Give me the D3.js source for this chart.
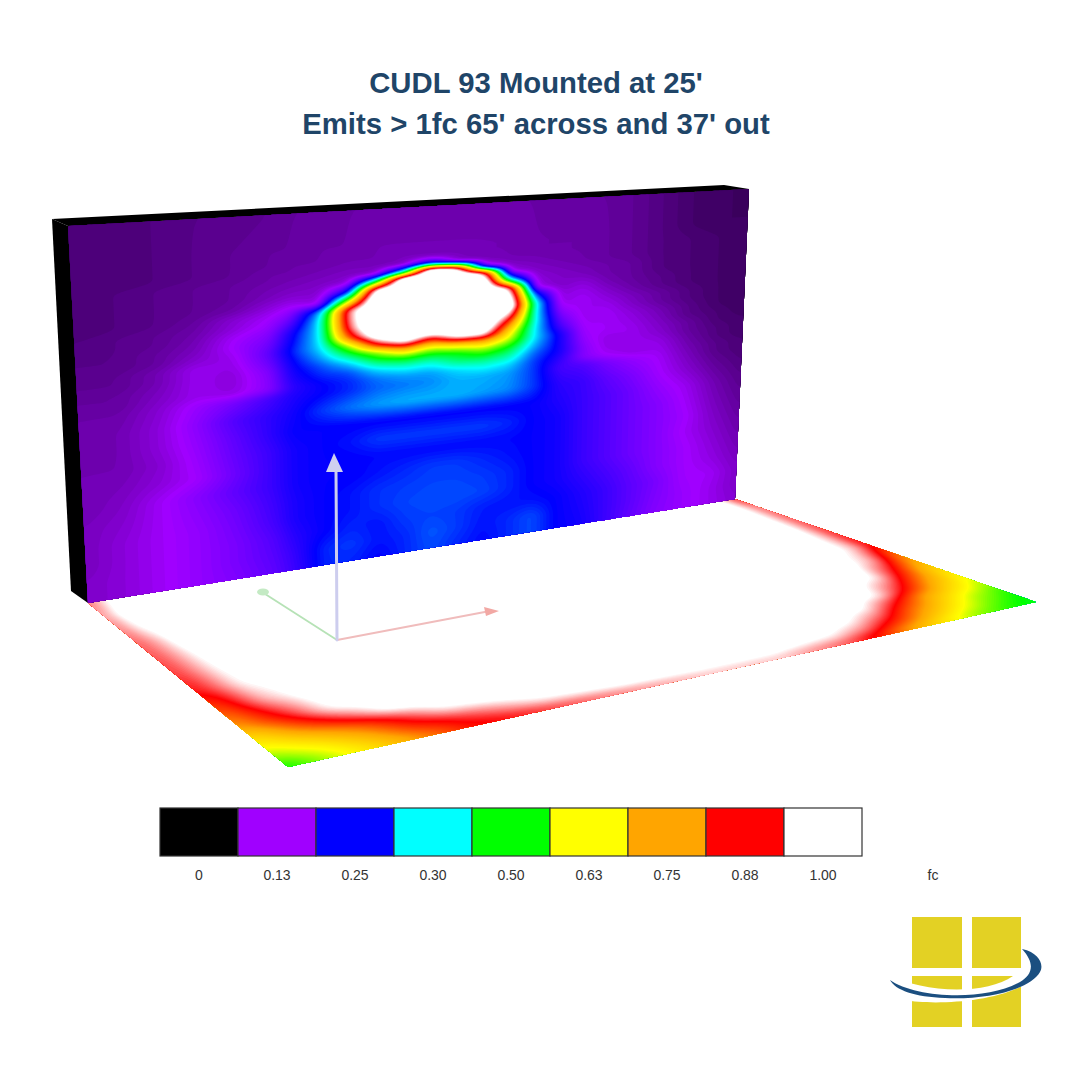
<!DOCTYPE html>
<html>
<head>
<meta charset="utf-8">
<script src="https://cdn.jsdelivr.net/npm/d3@7"></script>
<style>
body { margin: 0; background: #fff; }
text { font-family: "Liberation Sans", Arial, sans-serif; }
</style>
</head>
<body>
<div class="chart"></div>
<script>
let titleLines = ["CUDL 93 Mounted at 25'", "Emits > 1fc 65' across and 37' out"];

// legend
let legendStops = [0, 0.125, 0.25, 0.375, 0.5, 0.625, 0.75, 0.875, 1];
let legendLabels = ["0", "0.13", "0.25", "0.30", "0.50", "0.63", "0.75", "0.88", "1.00"];
let legendColours = ["#000000", "#a000ff", "#0000ff", "#00ffff", "#00ff00", "#ffff00", "#ffa500", "#ff0000", "#ffffff"];

// wall readings, hundredths of a fc. columns = wallU, rows = wallV
let wallU = [0, .05, .1, .15, .2, .25, .28, .32, .36, .4, .44, .48, .52, .56, .6, .64, .68, .72, .76, .8, .85, .9, .95, 1];
let wallV = [0, .1, .14, .16, .18, .2, .225, .25, .275, .3, .325, .35, .375, .4, .425, .45, .475, .5, .55, .6, .65, .7, .75, .8, .85, .9, .95, 1];
let wallFc = [
  [6,6,6.5,7,7,7.5,8,8,8.5,8.5,8.5,8.5,8.5,8.5,8.5,8.5,8,8,8,7.5,6.5,5.5,5,5],
  [6,6,6.5,7,7.5,8,8,8.5,8.5,9,9,9,9,9,9,8.5,8.5,8.5,8,7.5,6.5,5.5,5,5],
  [6,6,6.5,7,7.5,8,8.5,8.5,9,9,9.5,9.5,9.5,9,9,8.5,8.5,8.5,8,7.5,6.5,6,5.5,5],
  [6,6,6.5,7,7.5,8.5,8.5,9,9.5,9.5,10,25,10,9.5,9,9,8.5,8.5,8,7.5,6.5,6,5.5,5],
  [6,6.5,7,7.5,8,8.5,9,9.5,10,10.5,40,115,100,15,10,9.5,9,8.5,8,7.5,6.5,6,5.5,5],
  [6,6.5,7,7.5,8,9,9.5,10,11,45,115,115,115,100,12,10,9.5,9,8.5,8,6.5,6,5.5,5],
  [6,6.5,7,7.5,8,9.5,10.5,10.5,25,105,115,115,115,115,40,11,10,9.5,8.5,8,6.5,6,5.5,5],
  [6,6.5,7,7.5,8.5,11,12.5,11.5,60,115,115,115,115,115,100,12,10,11,9,8,7,6,5.5,5],
  [6,6.5,7,8,10.5,12.5,15,33,95,115,115,115,115,115,110,29,11,12,10,8.5,7,6,5.5,5],
  [6.5,7,7.5,8.5,11,13.5,19,37,95,115,115,115,115,115,115,40,11.5,12.5,11,9.5,8,6.5,5.5,5],
  [6.5,7,7.5,9,12.5,15,23.5,37,92,115,115,115,115,115,100,39,14,12,12,10,8,6.5,5.5,5],
  [7,7,8,9.5,13,16.5,25,37,82,110,115,115,115,115,82,39,17,12,12.5,11,9,7,5.5,5],
  [7,7,8,10.5,12,18,26.5,36,58,90,104,86,104,103,68,37.5,20,12.5,12.5,11.5,9.5,7,6,5],
  [7,7.5,9,12,11.5,17,25,33,45,58,72,62,68,72,60,37,24,13,12.5,12,10,8,6,5.5],
  [7.5,7.5,9,12,11,15.5,24,29,35,46,50,47,50,56,49,34,24,14,11.5,12,10.5,8,6.5,5.5],
  [8,8,9.5,12,11,15,23,27,29,36,39,38,44,45,42,30,24,15,11.5,12,11.5,8.5,6.5,5.5],
  [8,8,10,12,11.5,15,22,25,27,31,33,33,36,38,36,28,22,15,12.5,11.5,12,9,7,6],
  [8.5,8.5,10.5,13.5,16,20,23,25,27,30,31,32,34,34,33,28,20,19,16,14,12.5,9.5,7,6],
  [8.5,9,11,14.5,19,22,24,28,31,33,34,34,34,33,32,28,22,21,18,16,13,10.5,8,6.5],
  [8.5,9,11,14,18,22,25,25,25,25,25,25,25,25,25,25,23,21,19,17,14,12,9,7],
  [9,9,10.5,13.5,17.5,21,24,25,26,28,28,28,28,28,27,25,24,21,19,17,15,12.5,9.5,7.5],
  [9,9.5,11,13,17,21,24,25,25,25.5,25.5,25.5,25.5,25.5,25.5,25,24,21,19,17,15,13,10,8],
  [9,10,12.5,15,18,21,24,25,25,26,27,28,28,27,26,25,24,21,19,17,15,12.5,10.5,8.5],
  [9.5,10.5,12.5,14.5,17,20.5,23.5,25,26,27.5,28,28.5,28.5,28,27,25,24,21,19,17,15,13,11,9],
  [9.5,11,12.5,14,16.5,20,23.5,25,26,27.5,28.5,29,29,28.5,27,25,24,22,20,18,15,13,11.5,9.5],
  [9.5,11,12.5,14,16,19,22.5,25,27,26,28,28.5,28,26.5,26,26,25,23,21,18.5,16,13,12.5,10],
  [10,11,12.5,14,16,18.5,21.5,27,28,26,27,29.5,28,26,27,29,25,23.5,21,18.5,15.5,13.5,12,10],
  [10,11,12.5,14,15.5,18,21,27,27,25,27,29,27,25.5,27,29,25,24,21,18,15,13.5,12,10.5]
];

// floor readings, hundredths of a fc. columns = floorU, rows = floorV
let floorU = [0, .02, .05, .1, .15, .2, .3, .4, .5, .6, .7, .75, .8, .85, .9, .95, .975, 1];
let floorV = [0, .1, .2, .3, .4, .5, .6, .7, .8, .85, .9, .95, 1];
let floorFc = [
  [92,100,104,104,104,104,104,104,104,104,104,104,104,104,104,104,100,90],
  [94,102,104,104,104,104,104,104,104,104,104,104,104,104,104,104,100,93],
  [93,100,104,104,104,104,104,104,104,104,104,104,104,104,104,104,99,92],
  [92,96,104,104,104,104,104,104,104,104,104,104,104,104,104,104,98,91],
  [91,95,102,104,104,104,104,104,104,104,104,104,104,104,104,102,97,89],
  [90,94,101,104,104,104,104,104,104,104,104,104,104,104,104,101,96,87],
  [88,92,100,104,104,104,104,104,104,104,104,104,104,104,104,96,87,77],
  [82,87,96,103,104,104,104,104,104,104,104,104,104,104,100,84,75,69],
  [75,80,87,100,104,104,104,104,104,104,104,104,104,100,86,72,68,62],
  [68,72,80,91,102,104,104,104,104,104,104,104,101,89,75,67,63,58],
  [63,66,71,80,90,100,104,104,104,104,104,101,93,80,70,60,57,53],
  [57,60,64,73,84,90,100,103,103,103,100,94,84,73,64,56,53,50],
  [50,54,60,68,77,86,90,94,97,97,91,84,73,65,57,52,50,49]
];

let width = 1080, height = 1080;

let svg = d3.select(".chart").append("svg")
  .attr("width", width)
  .attr("height", height)
  .attr("viewBox", "0 0 " + width + " " + height)
  .style("display", "block");

let colour = d3.scaleLinear().domain(legendStops).range(legendColours).clamp(true);
let levels = d3.range(0, 100.5, 0.5);

// maps the unit square on to a four cornered face of the picture
function quadProjection(q) {
  let sx = q[0][0] - q[1][0] + q[2][0] - q[3][0],
      sy = q[0][1] - q[1][1] + q[2][1] - q[3][1],
      dx1 = q[1][0] - q[2][0], dx2 = q[3][0] - q[2][0],
      dy1 = q[1][1] - q[2][1], dy2 = q[3][1] - q[2][1],
      det = dx1 * dy2 - dx2 * dy1,
      g = (sx * dy2 - dx2 * sy) / det,
      h = (dx1 * sy - sx * dy1) / det,
      a = q[1][0] - q[0][0] + g * q[1][0],
      b = q[3][0] - q[0][0] + h * q[3][0],
      d = q[1][1] - q[0][1] + g * q[1][1],
      e = q[3][1] - q[0][1] + h * q[3][1];
  return function(u, v) {
    let w = g * u + h * v + 1;
    return [(a * u + b * v + q[0][0]) / w, (d * u + e * v + q[0][1]) / w];
  };
}

// the renderer shaded smoothly, so the readings are laid on a fine raster and softened
function raster(knotsU, knotsV, rows, nx, ny, rx, ry) {
  let data = new Float64Array(nx * ny);
  for (let j = 0; j < ny; j++) {
    let v = (j + 0.5) / ny,
        j1 = Math.min(d3.bisectRight(knotsV, v), knotsV.length - 1),
        j0 = j1 - 1,
        tv = (v - knotsV[j0]) / (knotsV[j1] - knotsV[j0]);
    for (let i = 0; i < nx; i++) {
      let u = (i + 0.5) / nx,
          i1 = Math.min(d3.bisectRight(knotsU, u), knotsU.length - 1),
          i0 = i1 - 1,
          tu = (u - knotsU[i0]) / (knotsU[i1] - knotsU[i0]);
      let top = rows[j0][i0] + (rows[j0][i1] - rows[j0][i0]) * tu,
          bottom = rows[j1][i0] + (rows[j1][i1] - rows[j1][i0]) * tu;
      data[j * nx + i] = top + (bottom - top) * tv;
    }
  }
  d3.blur2({data: data, width: nx, height: ny}, rx, ry);
  return data;
}

function drawSurface(knotsU, knotsV, rows, corners, nx, ny, rx, ry) {
  let project = quadProjection(corners);
  let path = d3.geoPath(d3.geoTransform({
    point: function(x, y) {
      let p = project(x / nx, y / ny);
      this.stream.point(p[0], p[1]);
    }
  }));

  let bands = d3.contours()
    .size([nx, ny])
    .thresholds(levels)(raster(knotsU, knotsV, rows, nx, ny, rx, ry));

  svg.append("g").selectAll("path")
    .data(bands.filter(b => b.coordinates.length))
    .enter().append("path")
    .attr("d", path)
    .attr("fill", d => colour(d.value / 100));
}

drawSurface(floorU, floorV, floorFc, [[88, 603], [735, 499], [1036, 602], [288, 767]], 400, 240, 3, 3);

svg.append("polygon")
  .attr("points", "52,219 724,185 749,189 68,226")
  .attr("fill", "#000");
svg.append("polygon")
  .attr("points", "52,219 68,226 88,603 71,591")
  .attr("fill", "#000");

drawSurface(wallU, wallV, wallFc, [[68, 226], [749, 189], [735, 499], [88, 603]], 300, 240, 2, 1);

// axes of the fixture
let axisG = svg.append("g").attr("fill", "none").attr("stroke-linecap", "round");
axisG.append("line").attr("x1", 337).attr("y1", 640).attr("x2", 262).attr("y2", 592)
  .attr("stroke", "#b6e2b6").attr("stroke-width", 1.8);
axisG.append("ellipse").attr("cx", 263).attr("cy", 592).attr("rx", 6).attr("ry", 3.5)
  .attr("fill", "#c4eac4");
axisG.append("line").attr("x1", 337).attr("y1", 640).attr("x2", 490).attr("y2", 611)
  .attr("stroke", "#f0bcbc").attr("stroke-width", 1.8);
axisG.append("polygon").attr("points", "484,607 499,611 486,616")
  .attr("fill", "#f2a8a4");
axisG.append("line").attr("x1", 336).attr("y1", 470).attr("x2", 337).attr("y2", 640)
  .attr("stroke", "#cdcdee").attr("stroke-width", 3);
axisG.append("polygon").attr("points", "334,453 343,472 326,472")
  .attr("fill", "#cfcff0");

// title
svg.selectAll(".title")
  .data(titleLines)
  .enter().append("text")
  .attr("class", "title")
  .attr("x", 536)
  .attr("y", (d, i) => 93 + i * 41)
  .attr("text-anchor", "middle")
  .attr("font-size", 29.3)
  .attr("font-weight", "bold")
  .attr("fill", "#1f4568")
  .text(d => d);

// legend
let legendX = d3.scaleBand().domain(legendLabels).range([160, 862]);
let legend = svg.append("g");
legend.selectAll("rect")
  .data(legendLabels)
  .enter().append("rect")
  .attr("x", d => legendX(d))
  .attr("y", 808)
  .attr("width", legendX.bandwidth())
  .attr("height", 48)
  .attr("fill", (d, i) => legendColours[i])
  .attr("stroke", "#333")
  .attr("stroke-width", 1.2);
legend.selectAll("text")
  .data(legendLabels)
  .enter().append("text")
  .attr("x", d => legendX(d) + legendX.bandwidth() / 2)
  .attr("y", 880)
  .attr("text-anchor", "middle")
  .attr("font-size", 14)
  .attr("fill", "#333")
  .text(d => d);
legend.append("text")
  .attr("x", 933).attr("y", 880)
  .attr("text-anchor", "middle")
  .attr("font-size", 14)
  .attr("fill", "#333")
  .text("fc");

// logo
let logo = svg.append("g");
logo.selectAll("rect")
  .data([[912, 917, 50, 51], [972, 917, 49, 51], [912, 976, 50, 51], [972, 976, 49, 51]])
  .enter().append("rect")
  .attr("x", d => d[0]).attr("y", d => d[1])
  .attr("width", d => d[2]).attr("height", d => d[3])
  .attr("fill", "#e3d124");
logo.append("path")
  .attr("d", "M890,975 C920,992 985,996 1013,976 L1022,976 L1022,986 C990,1003 930,1005 905,1000 L888,985 Z")
  .attr("fill", "#fff");
logo.append("path")
  .attr("d", "M890,980 C915,998 985,1002 1020,982 C1032,975 1036,964 1022,949 C1040,953 1044,965 1040,972 C1030,990 985,1000 945,998 C915,997 895,990 890,980 Z")
  .attr("fill", "#1b4f80");
</script>
</body>
</html>
